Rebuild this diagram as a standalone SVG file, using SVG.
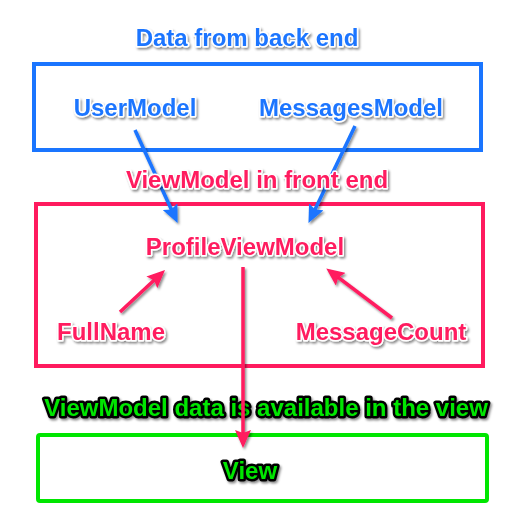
<svg xmlns="http://www.w3.org/2000/svg" width="520" height="532" viewBox="0 0 520 532">
<defs>
<filter id="sh" filterUnits="userSpaceOnUse" x="0" y="0" width="520" height="532">
<feDropShadow dx="1.5" dy="2" stdDeviation="1.2" flood-color="#000" flood-opacity="0.45"/>
</filter>
<marker id="ab" markerUnits="userSpaceOnUse" viewBox="0 0 18 16" refX="11" refY="8" markerWidth="18" markerHeight="16" orient="auto">
<path d="M0,0 L18,8 L0,16 L3,8 z" fill="#1a75ff"/>
</marker>
<marker id="ap" markerUnits="userSpaceOnUse" viewBox="0 0 18 16" refX="11" refY="8" markerWidth="18" markerHeight="16" orient="auto">
<path d="M0,0 L18,8 L0,16 L3,8 z" fill="#ff1a5e"/>
</marker>
</defs>
<style>
text{font-family:"Liberation Sans",Arial,sans-serif;font-weight:bold;font-size:24px;text-anchor:middle;paint-order:stroke;stroke-linejoin:round}
.b{fill:#1a75ff;stroke:#fff;stroke-width:3}
.p{fill:#ff1a5e;stroke:#fff;stroke-width:3}
.g{fill:#00e600;stroke:#000;stroke-width:5}
.box{fill:none;stroke-width:4}
.lb{stroke:#1a75ff;stroke-width:3.5;fill:none}
.lp{stroke:#ff1a5e;stroke-width:3.5;fill:none}
</style>
<rect width="520" height="532" fill="#fff"/>
<g id="backend">
<rect class="box" x="34" y="64" width="447" height="86" stroke="#1a75ff"/>
<text class="b" x="247" y="46" filter="url(#sh)">Data from back end</text>
</g>
<g id="frontend">
<rect class="box" x="36" y="204" width="447" height="162" stroke="#ff1a5e"/>
</g>
<g id="viewbox">
<rect class="box" x="38" y="435" width="449" height="66" rx="2" stroke="#00e600"/>
</g>
<g id="connectors" filter="url(#sh)">
<line class="lb" x1="135" y1="130" x2="174.7" y2="216.7" marker-end="url(#ab)"/>
<line class="lb" x1="355" y1="126" x2="311.5" y2="216.8" marker-end="url(#ab)"/>
<line class="lp" x1="120" y1="312" x2="159.9" y2="274.8" marker-end="url(#ap)"/>
<line class="lp" x1="392" y1="318" x2="331.9" y2="272.6" marker-end="url(#ap)"/>
</g>
<g id="frontend-label">
<text class="p" x="257" y="188" filter="url(#sh)">ViewModel in front end</text>
</g>
<g id="UserModel"><text class="b" x="135" y="116" filter="url(#sh)">UserModel</text></g>
<g id="MessagesModel"><text class="b" x="351" y="116" filter="url(#sh)">MessagesModel</text></g>
<g id="ProfileViewModel"><text class="p" x="245" y="255" filter="url(#sh)">ProfileViewModel</text></g>
<g id="FullName"><text class="p" x="111" y="340" filter="url(#sh)">FullName</text></g>
<g id="MessageCount"><text class="p" x="381" y="340" filter="url(#sh)">MessageCount</text></g>
<g id="view-label"><text class="g" x="266" y="416" filter="url(#sh)">ViewModel data is available in the view</text></g>
<g id="View"><text class="g" x="250" y="479" filter="url(#sh)">View</text></g>
<g id="connectors-down" filter="url(#sh)">
<line class="lp" x1="243" y1="267" x2="243" y2="441" marker-end="url(#ap)"/>
</g>
</svg>
